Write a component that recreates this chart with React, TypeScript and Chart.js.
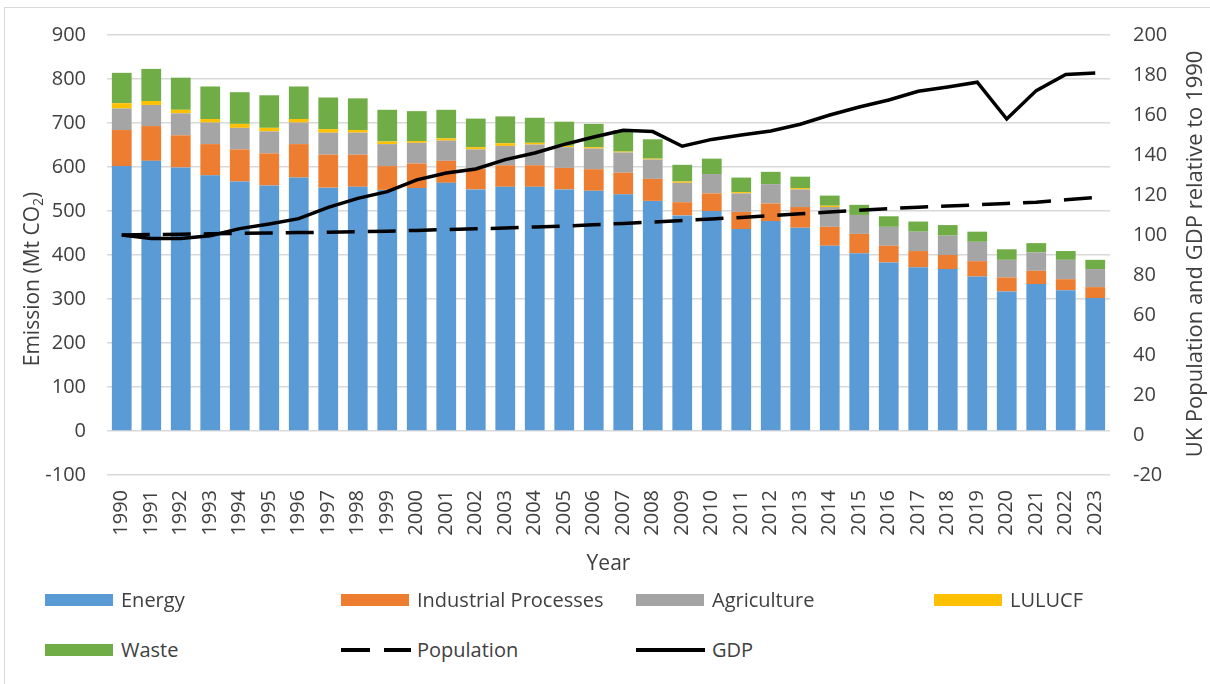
import React, { useEffect, useRef } from "react";
import { Chart, registerables } from "chart.js";

Chart.register(...registerables);

const years = ["1990","1991","1992","1993","1994","1995","1996","1997","1998","1999","2000","2001","2002","2003","2004","2005","2006","2007","2008","2009","2010","2011","2012","2013","2014","2015","2016","2017","2018","2019","2020","2021","2022","2023"];

const energy = [602,614,599,581,567,558,576,553,555,548,552,564,549,555,555,549,546,538,523,490,500,459,477,462,421,404,383,372,368,351,317,334,320,302];
const industrial = [82,79,73,71,73,73,76,75,73,54,56,50,47,49,49,49,49,49,50,30,40,39,40,47,43,44,38,37,32,35,32,30,25,25];
const agriculture = [49,48,50,49,49,50,49,50,50,50,47,46,44,44,47,47,47,46,44,44,44,42,44,40,45,43,43,44,44,44,40,42,44,41];
const lulucf = [12,9,8,8,9,8,8,8,6,6,4,5,5,6,4,3,3,2,2,3,0,3,0,3,3,0,0,0,0,0,0,0,0,0];
const waste = [69,73,73,74,72,74,74,72,72,72,68,65,65,61,57,55,53,49,44,38,35,33,28,26,23,23,24,23,24,23,24,21,20,21];

const population = [100,100.2,100.4,100.6,100.8,101,101.2,101.4,101.6,101.9,102.3,102.7,103.1,103.5,104,104.5,105.1,105.8,106.5,107.3,108,108.8,109.7,110.6,111.5,112.4,113.2,113.9,114.5,115.1,115.8,116.4,117.6,118.7];
const gdp = [100,98.2,98.2,99.6,103.2,105.5,108.2,113.8,118.3,121.7,127.6,131,133,137.7,141,145.3,149,152.4,151.7,144.4,147.8,150,152,155.4,160,164,167.5,171.9,174,176.4,158,172.2,180.3,181];

const FONT = "'Open Sans', 'DejaVu Sans', sans-serif";
const TEXT = "#404040";
const C_ENERGY = "#5B9BD5";
const C_IND = "#ED7D31";
const C_AGRI = "#A5A5A5";
const C_LULUCF = "#FFC000";
const C_WASTE = "#70AD47";

const axisTitles = {
  id: "axisTitles",
  afterDraw(chart: any) {
    const ctx = chart.ctx as CanvasRenderingContext2D;
    const big = `21px ${FONT}`;
    const small = `14px ${FONT}`;
    // left title with subscript
    ctx.save();
    ctx.fillStyle = TEXT;
    ctx.translate(33, 279);
    ctx.rotate(-Math.PI / 2);
    ctx.textBaseline = "middle";
    ctx.textAlign = "left";
    const a = "Emission (Mt CO";
    ctx.font = big;
    const wa = ctx.measureText(a).width;
    ctx.font = small;
    const ws = ctx.measureText("2").width;
    ctx.font = big;
    const wc = ctx.measureText(")").width;
    let x = -(wa + ws + wc) / 2;
    ctx.fillText(a, x, 0);
    x += wa;
    ctx.font = small;
    ctx.fillText("2", x, 6);
    x += ws;
    ctx.font = big;
    ctx.fillText(")", x, 0);
    ctx.restore();
    // right title
    ctx.save();
    ctx.fillStyle = TEXT;
    ctx.translate(1196, 254);
    ctx.rotate(-Math.PI / 2);
    ctx.textBaseline = "middle";
    ctx.textAlign = "center";
    ctx.font = `22px ${FONT}`;
    ctx.fillText("UK Population and GDP relative to 1990", 0, 0);
    ctx.restore();
  },
};

function LegendItem(props: { left: number; top: number; label: string; kind: "box" | "dash" | "line"; color: string }) {
  const { left, top, label, kind, color } = props;
  let marker: React.ReactNode = null;
  if (kind === "box") {
    marker = <div style={{ position: "absolute", left: 0, top: 8, width: 68, height: 12, background: color }} />;
  } else if (kind === "dash") {
    marker = (
      <>
        <div style={{ position: "absolute", left: 0, top: 12, width: 29, height: 4, background: color }} />
        <div style={{ position: "absolute", left: 43, top: 12, width: 27, height: 4, background: color }} />
      </>
    );
  } else {
    marker = <div style={{ position: "absolute", left: 0, top: 12, width: 69, height: 4, background: color }} />;
  }
  return (
    <div style={{ position: "absolute", left, top, height: 28, width: 300 }}>
      {marker}
      <div style={{ position: "absolute", left: 76, top: 0, height: 28, lineHeight: "28px", fontFamily: FONT, fontSize: 20, color: TEXT, whiteSpace: "nowrap" }}>
        {label}
      </div>
    </div>
  );
}

export default function App() {
  const ref = useRef<HTMLCanvasElement | null>(null);

  useEffect(() => {
    if (!ref.current) return;
    const chart = new Chart(ref.current, {
      type: "bar",
      data: {
        labels: years,
        datasets: [
          { type: "line", label: "Population", data: population, yAxisID: "y1", borderColor: "#000", borderWidth: 3.5, borderDash: [28, 13], pointRadius: 0, tension: 0, fill: false, order: 0 } as any,
          { type: "line", label: "GDP", data: gdp, yAxisID: "y1", borderColor: "#000", borderWidth: 3.5, pointRadius: 0, tension: 0, fill: false, order: 0 } as any,
          { label: "Energy", data: energy, backgroundColor: C_ENERGY, yAxisID: "y", order: 1, stack: "s" },
          { label: "Industrial Processes", data: industrial, backgroundColor: C_IND, yAxisID: "y", order: 1, stack: "s" },
          { label: "Agriculture", data: agriculture, backgroundColor: C_AGRI, yAxisID: "y", order: 1, stack: "s" },
          { label: "LULUCF", data: lulucf, backgroundColor: C_LULUCF, yAxisID: "y", order: 1, stack: "s" },
          { label: "Waste", data: waste, backgroundColor: C_WASTE, yAxisID: "y", order: 1, stack: "s" },
        ],
      },
      options: {
        responsive: false,
        animation: false,
        events: [],
        devicePixelRatio: 1,
        layout: { padding: { top: 35, left: 0, right: 0, bottom: 0 } },
        datasets: { bar: { barPercentage: 0.67, categoryPercentage: 1 } },
        plugins: { legend: { display: false }, tooltip: { enabled: false }, title: { display: false } },
        scales: {
          x: {
            stacked: true,
            offset: true,
            grid: { display: false, drawTicks: false },
            border: { display: false },
            ticks: { minRotation: 90, maxRotation: 90, autoSkip: false, padding: 15, color: TEXT, font: { family: FONT, size: 20 } },
            title: { display: true, text: "Year", color: TEXT, font: { family: FONT, size: 21 }, padding: { top: 0, bottom: 23 } },
            afterFit: (s: any) => { s.height = 125; },
          },
          y: {
            stacked: true,
            position: "left",
            min: -100,
            max: 900,
            ticks: { stepSize: 100, padding: 21, color: TEXT, font: { family: FONT, size: 20 } },
            grid: { color: "#d9d9d9", lineWidth: 1.5, drawTicks: false },
            border: { display: false },
            afterFit: (s: any) => { s.width = 107; },
          },
          y1: {
            stacked: false,
            position: "right",
            min: -20,
            max: 200,
            ticks: { stepSize: 20, padding: 23, color: TEXT, font: { family: FONT, size: 20 } },
            grid: { display: false, drawTicks: false },
            border: { display: false },
            afterFit: (s: any) => { s.width = 100; },
          },
        },
      } as any,
      plugins: [axisTitles],
    });
    return () => chart.destroy();
  }, []);

  return (
    <div style={{ position: "fixed", left: 0, top: 0, width: 1210, height: 684, overflow: "hidden", background: "#fff" }}>
      <div style={{ position: "absolute", left: 4, top: 7, width: 1230, height: 700, border: "1px solid #d9d9d9", boxSizing: "border-box" }} />
      <canvas ref={ref} width={1210} height={600} style={{ position: "absolute", left: 0, top: 0, display: "block" }} />
      <LegendItem left={45} top={586} label="Energy" kind="box" color={C_ENERGY} />
      <LegendItem left={341} top={586} label="Industrial Processes" kind="box" color={C_IND} />
      <LegendItem left={636} top={586} label="Agriculture" kind="box" color={C_AGRI} />
      <LegendItem left={934} top={586} label="LULUCF" kind="box" color={C_LULUCF} />
      <LegendItem left={45} top={636} label="Waste" kind="box" color={C_WASTE} />
      <LegendItem left={341} top={636} label="Population" kind="dash" color="#000" />
      <LegendItem left={636} top={636} label="GDP" kind="line" color="#000" />
    </div>
  );
}
